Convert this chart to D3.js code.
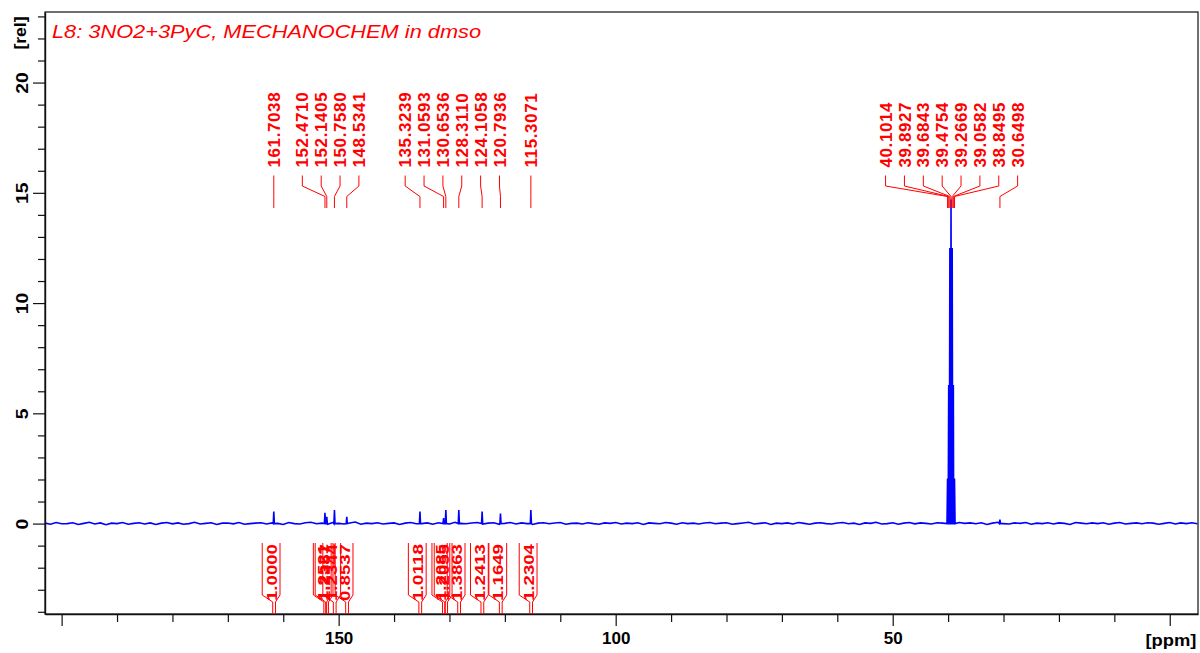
<!DOCTYPE html>
<html>
<head>
<meta charset="utf-8">
<script src="https://cdn.jsdelivr.net/npm/d3@7"></script>
<style>
  html, body { margin: 0; padding: 0; background: #fff; }
  svg { display: block; }
  text { font-family: "Liberation Sans", Arial, sans-serif; }
</style>
</head>
<body>
<svg id="chart" width="1200" height="653"></svg>
<script>
// ---- spectrum data: 13C NMR in DMSO-d6 ----
const titleText = "L8: 3NO2+3PyC, MECHANOCHEM in dmso";

// picked peaks (ppm) and their intensities (rel)
const peakPpm = [161.7038, 152.4710, 152.1405, 150.7580, 148.5341,
                 135.3239, 131.0593, 130.6536, 128.3110, 124.1058, 120.7936, 115.3071,
                 40.1014, 39.8927, 39.6843, 39.4754, 39.2669, 39.0582, 38.8495, 30.6498];
const peakHeight = [0.55, 0.49, 0.31, 0.61, 0.31,
                    0.55, 0.25, 0.61, 0.61, 0.55, 0.46, 0.61,
                    2.05, 6.28, 12.5, 14.7, 12.5, 6.28, 2.05, 0.18];

// integral regions (ppm) and normalised integrals
const intStart = [161.90, 152.67, 152.34, 150.96, 148.73, 135.52, 131.26, 130.85, 128.51, 124.31, 120.99, 115.51];
const intEnd   = [161.40, 152.17, 151.84, 150.46, 148.23, 135.02, 130.76, 130.35, 128.01, 123.81, 120.49, 115.01];
const intValue = ["1.0000", "1.2521", "1.2357", "1.2344", "0.8537",
                  "1.0118", "1.2085", "1.2055", "1.3863", "1.2413", "1.1649", "1.2304"];

// baseline noise (rel), one value per ppm from 203 down to -5
const baselineNoise = [
  0.02,-0.03,0.05,-0.01,0.00,0.04,-0.04,0.01,0.06,-0.02,0.03,-0.05,0.02,0.00,0.05,-0.03,0.01,0.04,-0.02,0.03,
  -0.04,0.02,0.05,-0.01,0.03,-0.03,0.00,0.06,-0.02,0.01,0.04,-0.04,0.02,0.03,-0.01,0.05,-0.03,0.00,0.02,0.04,
  -0.02,0.03,0.01,-0.04,0.05,0.00,-0.02,0.04,0.06,-0.01,0.02,-0.03,0.05,0.01,-0.02,0.03,0.07,-0.03,0.02,0.00,
  0.04,-0.02,0.01,0.03,-0.04,0.02,0.05,-0.01,0.00,0.03,-0.03,0.04,0.02,-0.02,0.06,0.01,-0.01,0.03,0.05,-0.02,
  0.02,0.04,-0.03,0.01,0.05,-0.02,0.03,0.00,-0.04,0.02,0.04,-0.01,0.03,0.05,-0.03,0.01,0.02,-0.02,0.04,0.00,
  -0.03,0.03,0.01,0.05,-0.02,0.02,0.00,0.04,-0.04,0.03,0.01,-0.01,0.05,0.02,-0.03,0.04,0.00,0.02,-0.02,0.03,
  0.05,-0.01,0.02,0.04,-0.03,0.00,0.03,0.06,-0.02,0.01,0.04,-0.04,0.02,0.00,0.03,-0.02,0.05,0.01,-0.03,0.02,
  0.04,0.00,-0.02,0.03,0.05,-0.01,0.02,-0.04,0.03,0.01,0.06,-0.02,0.00,0.04,-0.03,0.02,0.05,-0.01,0.03,0.01,
  -0.02,0.04,0.02,0.00,-0.03,0.05,0.01,0.03,-0.01,0.04,-0.04,0.02,0.06,0.00,-0.02,0.03,0.01,0.05,-0.03,0.02,
  0.00,0.04,-0.02,0.03,0.01,-0.04,0.05,0.02,-0.01,0.03,0.00,0.04,-0.03,0.02,0.05,-0.02,0.01,0.03,-0.01,0.04,
  0.02,-0.03,0.01,0.05,-0.02,0.03,0.00,0.04,-0.01
];
const noiseStartPpm = 203;

// axis ticks
const xMajorTicks = [200, 150, 100, 50, 0];
const xTickLabels = [150, 100, 50];
const yMajorTicks = [0, 5, 10, 15, 20];

// ---- layout ----
const svg = d3.select("#chart");
const frame = { left: 45, right: 1198, top: 12, bottom: 614 };
const x = d3.scaleLinear().domain([203, -5.1]).range([frame.left, frame.right]);
const y = d3.scaleLinear().domain([-4.1, 23.2]).range([frame.bottom, frame.top]);
const RED = "#ff0000", BLUE = "#0000ff";

// stretch a text element along its run direction
function widen(sel, factor) {
  sel.each(function () {
    const len = this.getComputedTextLength();
    d3.select(this).attr("textLength", len * factor).attr("lengthAdjust", "spacingAndGlyphs");
  });
}

svg.append("defs").append("clipPath").attr("id", "plotClip")
  .append("rect").attr("x", frame.left).attr("y", frame.top)
  .attr("width", frame.right - frame.left).attr("height", frame.bottom - frame.top);

// ---- spectrum trace ----
const pts = baselineNoise.map((v, i) => [noiseStartPpm - i, v]);
const halfWidth = 0.1;
peakPpm.forEach((p, i) => {
  pts.push([p + halfWidth, 0]);
  pts.push([p, peakHeight[i]]);
  pts.push([p - halfWidth, 0]);
});
pts.sort((a, b) => b[0] - a[0]);

svg.append("path")
  .datum(pts)
  .attr("clip-path", "url(#plotClip)")
  .attr("fill", "none")
  .attr("stroke", BLUE)
  .attr("stroke-width", 1.6)
  .attr("d", d3.line().x(d => x(d[0])).y(d => y(d[1])));

// ---- frame ----
svg.append("rect")
  .attr("x", frame.left).attr("y", frame.top)
  .attr("width", frame.right - frame.left).attr("height", frame.bottom - frame.top)
  .attr("fill", "none").attr("stroke", "#111").attr("stroke-width", 1.2);

// ---- x axis ----
const xMinor = d3.range(200, -1, -10).filter(v => v % 50 !== 0);
svg.append("g").attr("transform", `translate(0,${frame.bottom})`)
  .call(d3.axisBottom(x).tickValues(xMinor).tickSize(8).tickSizeOuter(0).tickFormat(""))
  .call(g => g.select(".domain").remove());
const xAx = svg.append("g").attr("transform", `translate(0,${frame.bottom})`)
  .call(d3.axisBottom(x).tickValues(xMajorTicks).tickSize(12).tickSizeOuter(0)
    .tickFormat(d => xTickLabels.includes(d) ? d : ""));
xAx.select(".domain").attr("stroke", "#111").attr("stroke-width", 1.4);
svg.selectAll(".tick line").attr("stroke", "#111").attr("stroke-width", 1.2);
xAx.selectAll("text")
  .attr("y", 18).attr("dy", "0.71em")
  .style("font-size", "17px").style("font-weight", "bold").attr("fill", "#000");
svg.append("text")
  .attr("x", 1171).attr("y", 646)
  .attr("text-anchor", "middle")
  .style("font-size", "17px").style("font-weight", "bold")
  .text("[ppm]")
  .call(widen, 1.08);

// ---- y axis ----
const yMinor = d3.range(-4, 24, 1).filter(v => v % 5 !== 0);
svg.append("g").attr("transform", `translate(${frame.left},0)`)
  .call(d3.axisLeft(y).tickValues(yMinor).tickSize(7).tickSizeOuter(0).tickFormat(""))
  .call(g => g.select(".domain").remove())
  .call(g => g.selectAll("line").attr("stroke", "#111").attr("stroke-width", 1.2));
const yAx = svg.append("g").attr("transform", `translate(${frame.left},0)`)
  .call(d3.axisLeft(y).tickValues(yMajorTicks).tickSize(12).tickSizeOuter(0));
yAx.select(".domain").attr("stroke", "#111").attr("stroke-width", 1.4);
yAx.selectAll("line").attr("stroke", "#111").attr("stroke-width", 1.2);
yAx.selectAll("text")
  .attr("x", null)
  .attr("text-anchor", "middle")
  .attr("transform", "translate(-23,0) rotate(-90)")
  .attr("dy", "0.36em")
  .style("font-size", "16px").style("font-weight", "bold").attr("fill", "#000")
  .call(widen, 1.2);
svg.append("text")
  .attr("transform", "translate(20,33) rotate(-90)")
  .attr("text-anchor", "middle").attr("dy", "0.36em")
  .style("font-size", "16px").style("font-weight", "bold")
  .text("[rel]")
  .call(widen, 1.1);

// ---- title ----
svg.append("text")
  .attr("x", 52).attr("y", 38)
  .attr("fill", RED)
  .style("font-size", "18px").style("font-style", "italic")
  .text(titleText)
  .call(widen, 1.21);

// ---- peak labels: spread overlapping labels around the median of each group ----
function spreadLabels(xs, gap) {
  let clusters = xs.map(v => [v]);
  const median = arr => {
    const s = arr.slice().sort((a, b) => a - b), n = s.length;
    return n % 2 ? s[(n - 1) / 2] : (s[n / 2 - 1] + s[n / 2]) / 2;
  };
  const start = c => median(c) - (c.length - 1) * gap / 2;
  let merged = true;
  while (merged) {
    merged = false;
    for (let i = 0; i < clusters.length - 1; i++) {
      const a = clusters[i], b = clusters[i + 1];
      if (start(b) - (start(a) + (a.length - 1) * gap) < gap) {
        clusters.splice(i, 2, a.concat(b));
        merged = true;
        break;
      }
    }
  }
  const out = [];
  clusters.forEach(c => c.forEach((_, k) => out.push(start(c) + k * gap)));
  return out;
}

const peakX = peakPpm.map(p => x(p));
const order = d3.range(peakX.length).sort((a, b) => peakX[a] - peakX[b]);
const spread = spreadLabels(order.map(i => peakX[i]), 18.86);
const labelX = new Array(peakX.length);
order.forEach((i, k) => { labelX[i] = spread[k]; });

const lbl = svg.append("g");
peakPpm.forEach((p, i) => {
  lbl.append("path")
    .attr("fill", "none").attr("stroke", RED).attr("stroke-width", 1)
    .attr("d", `M${labelX[i]},175.5V186L${peakX[i]},196.5V208`);
  lbl.append("text")
    .attr("transform", `translate(${labelX[i]},167.5) rotate(-90)`)
    .attr("dy", "0.36em")
    .attr("fill", RED)
    .style("font-size", "17px").style("font-weight", "bold")
    .style("letter-spacing", "0.6px")
    .text(p.toFixed(4));
});

// ---- integrals ----
const intG = svg.append("g");
intValue.forEach((v, i) => {
  const xa = x(intStart[i]), xb = x(intEnd[i]);
  const cx = (xa + xb) / 2 - 3;
  const hw = 8.9;
  intG.append("path")
    .attr("fill", "none").attr("stroke", RED).attr("stroke-width", 1)
    .attr("d", `M${cx - hw},543V595L${xa},602V${frame.bottom}` +
               `M${cx + hw},543V595L${xb},602V${frame.bottom}`);
  intG.append("text")
    .attr("transform", `translate(${cx},601) rotate(-90)`)
    .attr("dy", "0.37em")
    .attr("fill", RED)
    .attr("textLength", 57).attr("lengthAdjust", "spacingAndGlyphs")
    .style("font-size", "15px").style("font-weight", "bold")
    .text(v);
});
</script>
</body>
</html>
